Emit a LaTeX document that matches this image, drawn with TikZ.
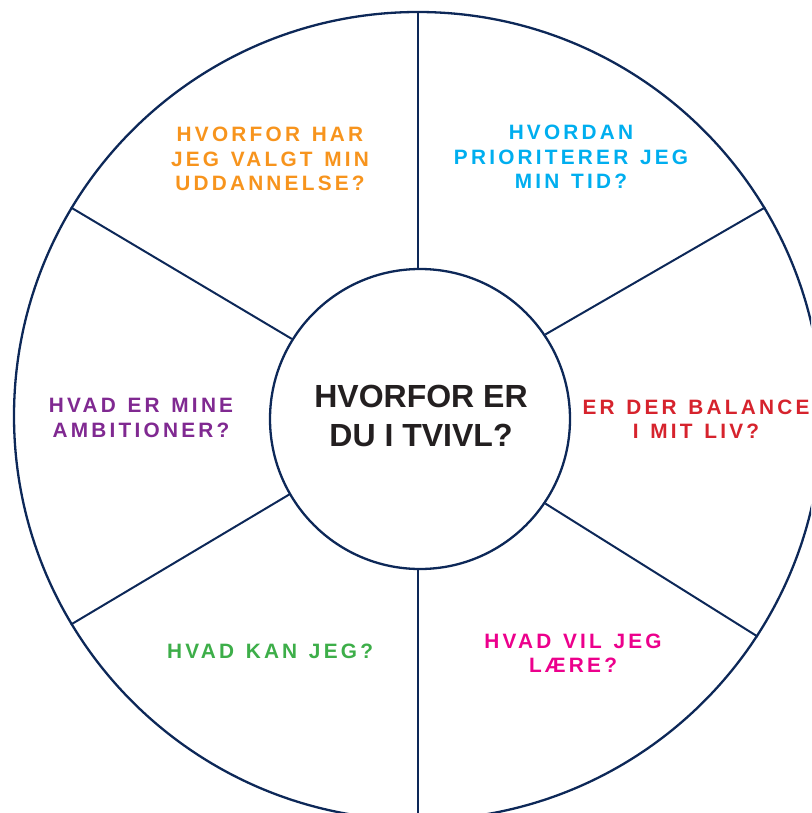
\documentclass[tikz,border=0pt]{standalone}
\usepackage{fontspec}
\newfontfamily\labfont{Liberation Sans}[LetterSpace=15.5,WordSpace=1.3]
\newfontfamily\ctrfont{Liberation Sans}
\definecolor{navy}{RGB}{13,40,88}
\definecolor{qorange}{RGB}{247,148,29}
\definecolor{qblue}{RGB}{0,174,239}
\definecolor{qred}{RGB}{214,35,45}
\definecolor{qpurple}{RGB}{128,41,145}
\definecolor{qgreen}{RGB}{61,174,73}
\definecolor{qmagenta}{RGB}{236,0,140}
\definecolor{qdark}{RGB}{35,31,32}
\begin{document}
\begin{tikzpicture}[x=1pt,y=-1pt,
  ring/.style={circle,draw=navy,line width=2.3pt,inner sep=0pt,minimum size=#1},
  spoke/.style={draw=navy,line width=2pt},
  qlabel/.style={align=center,inner sep=0pt,font=\labfont\bfseries\fontsize{20.8}{24.5}\selectfont},
  ctrlabel/.style={align=center,inner sep=0pt,text=qdark,font=\ctrfont\bfseries\fontsize{32}{39}\selectfont}]
\useasboundingbox (0,0) rectangle (811,813);
\clip (0,0) rectangle (811,813);
\node[ring=808pt] (outer) at (418,416) {};
\node[ring=300pt,fill=white] (inner) at (420,419) {};
\coordinate (vbot) at (418,813);
\draw[spoke] (outer.north) -- (outer.north |- inner.north);
\draw[spoke] (vbot) -- (vbot |- inner.south);
\draw[spoke] (inner.34) -- (outer.31);
\draw[spoke] (inner.-34) -- (outer.-33);
\draw[spoke] (inner.148) -- (outer.149);
\draw[spoke] (inner.210) -- (outer.211);
\node[ctrlabel] (center) at (421,415.5) {HVORFOR ER\\DU I TVIVL?};
\node[qlabel,text=qorange] (q1) at (270,159) {HVORFOR HAR\\JEG VALGT MIN\\UDDANNELSE?};
\node[qlabel,text=qblue] (q2) at (571,157) {HVORDAN\\PRIORITERER JEG\\MIN TID?};
\node[qlabel,text=qred] (q3) at (696,419) {ER DER BALANCE\\I MIT LIV?};
\node[qlabel,text=qpurple] (q4) at (141,418) {HVAD ER MINE\\AMBITIONER?};
\node[qlabel,text=qgreen] (q5) at (270,651) {HVAD KAN JEG?};
\node[qlabel,text=qmagenta] (q6) at (573,653) {HVAD VIL JEG\\LÆRE?};
\end{tikzpicture}
\end{document}
